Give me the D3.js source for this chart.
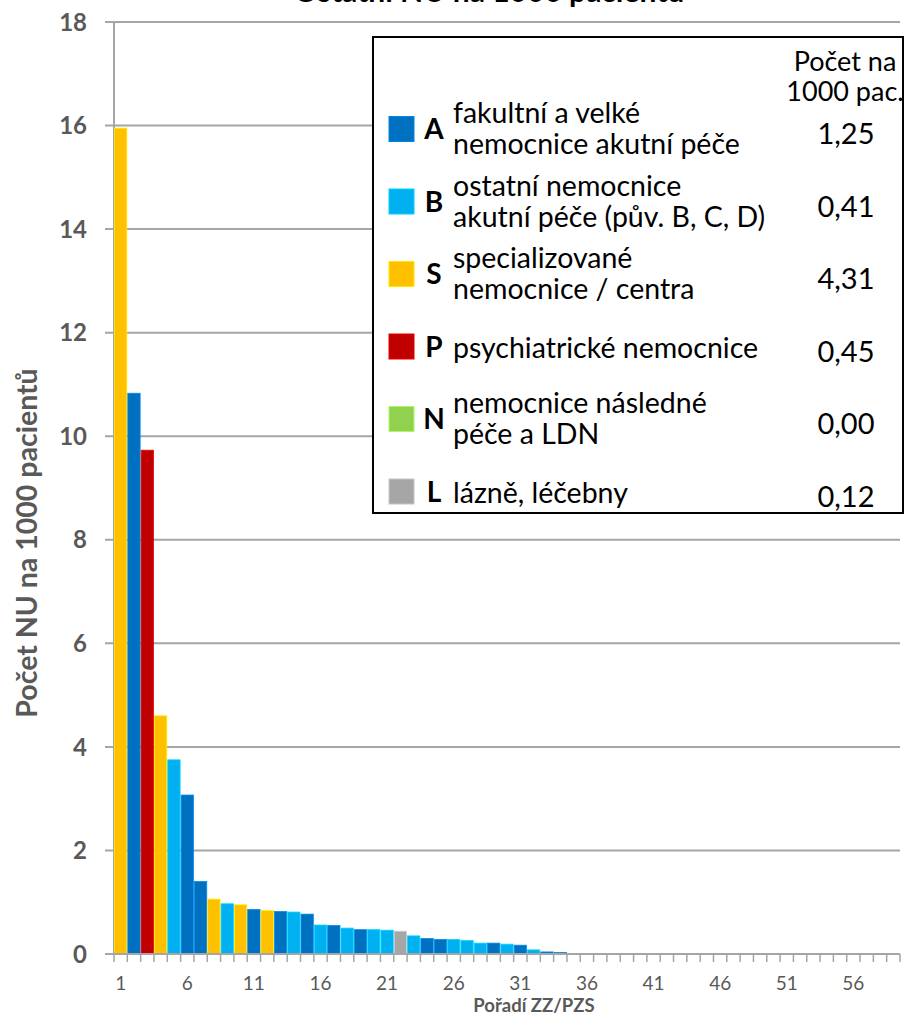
<!DOCTYPE html>
<html><head><meta charset="utf-8">
<script src="https://cdn.jsdelivr.net/npm/d3@7"></script>
<style>body{margin:0;background:#fff}svg{display:block}text{font-family:Lato,"Open Sans",sans-serif}</style>
</head><body><svg id="c" width="905" height="1018"></svg>
<script>
const title = "Ostatní NU na 1000 pacientů";
const yTitle = "Počet NU na 1000 pacientů";
const xTitle = "Pořadí ZZ/PZS";
const barTypes = ["S","A","P","S","B","A","A","S","B","S","A","S","A","B","A","B","A","B","A","B","B","L","B","A","A","B","B","B","A","B","A","B","A","A"];
const barValues = [15.95,10.83,9.73,4.60,3.75,3.07,1.40,1.06,0.97,0.95,0.86,0.84,0.82,0.81,0.77,0.56,0.55,0.50,0.47,0.47,0.46,0.44,0.35,0.30,0.28,0.28,0.26,0.21,0.21,0.19,0.17,0.08,0.04,0.03];
const categoryCount = 59;
const yTicks = [0,2,4,6,8,10,12,14,16,18];
const xTickLabels = [1,6,11,16,21,26,31,36,41,46,51,56];
const legendKeys = ["A","B","S","P","N","L"];
const legendLabels = [["fakultní a velké","nemocnice akutní péče"],["ostatní nemocnice","akutní péče (pův. B, C, D)"],["specializované","nemocnice / centra"],["psychiatrické nemocnice"],["nemocnice následné","péče a LDN"],["lázně, léčebny"]];
const legendValues = ["1,25","0,41","4,31","0,45","0,00","0,12"];
const legendHeader = ["Počet na","1000 pac."];
const colors = {A:"#0070C0",B:"#00B0F0",S:"#FFC000",P:"#C00000",N:"#92D050",L:"#A6A6A6"};

const svg = d3.select("#c");
const categories = d3.range(1, categoryCount+1);
const x = d3.scaleBand().domain(categories).range([114, 900]).padding(0);
const y = d3.scaleLinear().domain([0,18]).range([954, 22]);
const grid = "#A5A5A5", txt = "#595959";

// gridlines
svg.append("g").selectAll("line").data(yTicks).join("line")
  .attr("x1",105).attr("x2",900).attr("y1",d=>y(d)).attr("y2",d=>y(d))
  .attr("stroke",grid).attr("stroke-width",2);
// y axis line
svg.append("line").attr("x1",114).attr("x2",114).attr("y1",y(18)).attr("y2",y(0)).attr("stroke",grid).attr("stroke-width",2);

// bars
const bars = barValues.map((v,i)=>({cat:categories[i], v, t:barTypes[i]}));
svg.append("g").selectAll("rect").data(bars).join("rect")
  .attr("x",d=>x(d.cat)+0.5).attr("width",x.bandwidth()-1)
  .attr("y",d=>y(d.v)).attr("height",d=>y(0)-y(d.v))
  .attr("fill",d=>colors[d.t])
  .attr("stroke",d=>d3.color(colors[d.t]).brighter(0.6)).attr("stroke-width",0.8);

// x axis
const xAxisG = svg.append("g");
xAxisG.append("line").attr("x1",114).attr("x2",900).attr("y1",y(0)).attr("y2",y(0)).attr("stroke",grid).attr("stroke-width",2);
xAxisG.selectAll("line.t").data(d3.range(categoryCount+1)).join("line").attr("class","t")
  .attr("x1",i=>114+i*x.step()).attr("x2",i=>114+i*x.step())
  .attr("y1",y(0)).attr("y2",y(0)+8).attr("stroke",grid).attr("stroke-width",1.5);
xAxisG.selectAll("text").data(xTickLabels).join("text")
  .attr("x",d=>x(d)+x.bandwidth()/2).attr("y",990).attr("text-anchor","middle")
  .attr("fill",txt).attr("font-size",19).text(d=>d);

// y tick labels
svg.append("g").selectAll("text").data(yTicks).join("text")
  .attr("x",87).attr("y",d=>y(d)).attr("dy","0.36em").attr("text-anchor","end")
  .attr("fill",txt).attr("font-size",24).attr("font-weight","bold").text(d=>d);

// titles
svg.append("text").attr("x",489).attr("y",1.5).attr("text-anchor","middle").attr("font-size",30).attr("font-weight","bold").attr("fill","#000").text(title);
svg.append("text").attr("transform","translate(37,543) rotate(-90)").attr("text-anchor","middle")
  .attr("font-size",28.5).attr("font-weight","bold").attr("fill",txt).text(yTitle);
svg.append("text").attr("x",534).attr("y",1012).attr("text-anchor","middle").attr("font-size",18.5).attr("font-weight","bold").attr("fill",txt).text(xTitle);

// legend
const lg = svg.append("g");
lg.append("rect").attr("x",373).attr("y",37).attr("width",530).attr("height",476).attr("fill","#fff").attr("stroke","#000").attr("stroke-width",2);
lg.selectAll("text.h").data(legendHeader).join("text").attr("class","h")
  .attr("x",845).attr("y",(d,i)=>61+i*30).attr("dy","0.36em").attr("text-anchor","middle").attr("font-size",27).attr("fill","#000").text(d=>d);
const rowY = i => 129 + i*72.5;
legendKeys.forEach((k,i)=>{
  const cy = rowY(i);
  lg.append("rect").attr("x",389).attr("y",cy-12.5).attr("width",25).attr("height",25).attr("fill",colors[k]).attr("stroke",d3.color(colors[k]).brighter(0.5)).attr("stroke-width",1);
  lg.append("text").attr("x",434).attr("y",cy).attr("dy","0.36em").attr("text-anchor","middle").attr("font-size",28).attr("font-weight","bold").attr("fill","#000").text(k);
  const lines = legendLabels[i];
  lg.selectAll(null).data(lines).join("text").attr("x",453)
    .attr("y",(d,j)=> lines.length===1 ? cy+1 : cy-16+j*31).attr("dy","0.36em")
    .attr("font-size",28.5).attr("fill","#000").text(d=>d);
  lg.append("text").attr("x",846).attr("y",cy+5).attr("dy","0.36em").attr("text-anchor","middle").attr("font-size",29).attr("fill","#000").text(legendValues[i]);
});
</script></body></html>
